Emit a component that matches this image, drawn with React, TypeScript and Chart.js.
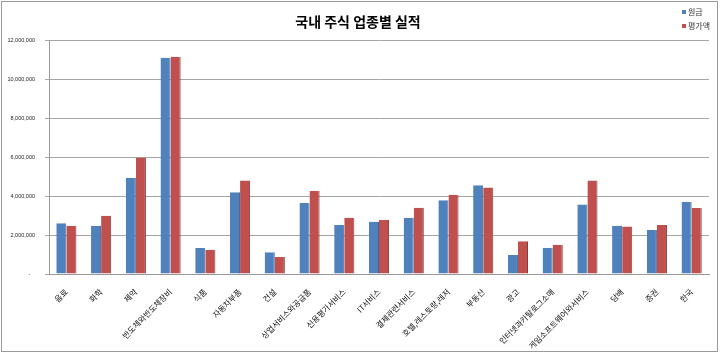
import React, { useEffect, useRef } from "react";
import { Chart, registerables } from "chart.js";

Chart.register(...registerables);

const categories = [
  "음료", "화학", "제약", "반도체와반도체장비", "식품", "자동차부품", "건설",
  "상업서비스와공급품", "신용평가서비스", "IT서비스", "결제관련서비스",
  "호텔,레스토랑,레저", "부동산", "광고", "인터넷과카탈로그소매",
  "게임소프트웨어와서비스", "담배", "증권", "한국",
];
const principal = [
  2600000, 2480000, 4940000, 11090000, 1330000, 4190000, 1110000, 3640000,
  2510000, 2680000, 2890000, 3780000, 4550000, 970000, 1330000, 3560000,
  2480000, 2260000, 3690000,
];
const valuation = [
  2480000, 2990000, 5970000, 11140000, 1250000, 4800000, 870000, 4260000,
  2890000, 2770000, 3400000, 4070000, 4430000, 1680000, 1500000, 4800000,
  2440000, 2510000, 3380000,
];
const seriesNames = ["원금", "평가액"];
const title = "국내 주식 업종별 실적";
const colors = ["#4F81BD", "#C0504D"];

export default function App() {
  const ref = useRef<HTMLCanvasElement>(null);
  useEffect(() => {
    document.body.style.margin = "0";
    const deco = {
      id: "deco",
      afterDraw(chart: any) {
        const ctx = chart.ctx;
        ctx.save();
        ctx.strokeStyle = "#9a9a9a";
        ctx.lineWidth = 1;
        ctx.strokeRect(1.5, 1.5, 716, 350);
        ctx.fillStyle = "#000";
        ctx.font = "bold 14px 'Noto Sans CJK KR'";
        ctx.textAlign = "center";
        ctx.textBaseline = "middle";
        ctx.fillText(title, 358, 22);
        ctx.font = "8px 'Noto Sans CJK KR'";
        ctx.textAlign = "left";
        seriesNames.forEach((n, i) => {
          const y = 12 + i * 14;
          ctx.fillStyle = colors[i];
          ctx.fillRect(682, y - 2, 4, 4);
          ctx.fillStyle = "#333";
          ctx.fillText(n, 688, y);
        });
        ctx.restore();
      },
    };
    const chart = new Chart(ref.current!, {
      type: "bar",
      data: {
        labels: categories,
        datasets: [
          { label: seriesNames[0], data: principal, backgroundColor: colors[0], borderColor: "#3A6594", borderWidth: { right: 1 } as any },
          { label: seriesNames[1], data: valuation, backgroundColor: colors[1], borderColor: "#8E3A38", borderWidth: { right: 1 } as any },
        ],
      },
      options: {
        animation: false,
        responsive: false,
        layout: { padding: { top: 40, right: 11, left: 0, bottom: 0 } },
        plugins: { legend: { display: false }, title: { display: false }, tooltip: { enabled: false } },
        datasets: { bar: { categoryPercentage: 0.58, barPercentage: 1.0 } },
        scales: {
          x: {
            grid: { display: false },
            border: { color: "#9a9a9a" },
            ticks: {
              autoSkip: false,
              minRotation: 45,
              maxRotation: 45,
              color: "#111",
              padding: 5,
              font: { family: "'Noto Sans CJK KR'", size: 8 },
            },
            afterFit(scale: any) { scale.height = 80; },
          },
          y: {
            min: 0,
            max: 12000000,
            grid: { color: "#a6a6a6", tickLength: 4 },
            border: { color: "#9a9a9a" },
            ticks: {
              stepSize: 2000000,
              padding: 10,
              color: "#222",
              font: { family: "'Liberation Sans'", size: 5.5 },
              callback: (v: any) => (Number(v) === 0 ? "-   " : Number(v).toLocaleString("en-US")),
            },
            afterFit(scale: any) { scale.width = 49; },
          },
        },
      },
      plugins: [deco],
    });
    return () => chart.destroy();
  }, []);
  return (
    <div style={{ width: 720, height: 354, background: "#fff" }}>
      <canvas ref={ref} width={720} height={354} style={{ display: "block" }} />
    </div>
  );
}
